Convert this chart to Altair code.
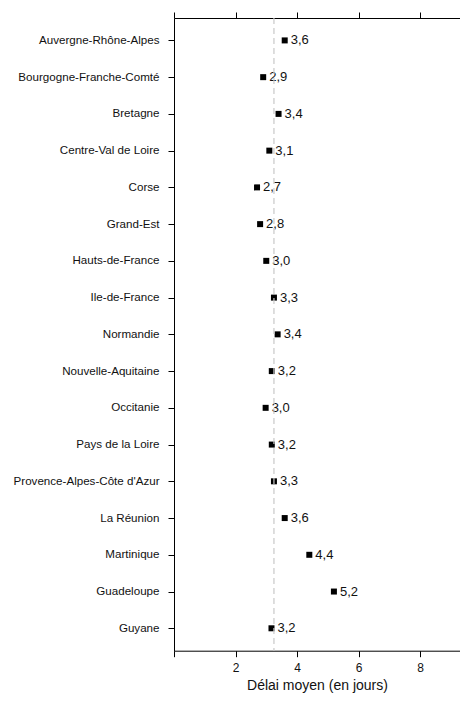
import altair as alt
import pandas as pd

regions = [
    "Auvergne-Rhône-Alpes", "Bourgogne-Franche-Comté", "Bretagne",
    "Centre-Val de Loire", "Corse", "Grand-Est", "Hauts-de-France",
    "Ile-de-France", "Normandie", "Nouvelle-Aquitaine", "Occitanie",
    "Pays de la Loire", "Provence-Alpes-Côte d'Azur", "La Réunion",
    "Martinique", "Guadeloupe", "Guyane",
]
values = [3.6, 2.9, 3.4, 3.1, 2.7, 2.8, 3.0, 3.25, 3.37, 3.18, 2.98,
          3.18, 3.25, 3.6, 4.4, 5.2, 3.17]
labels = ["3,6", "2,9", "3,4", "3,1", "2,7", "2,8", "3,0", "3,3", "3,4",
          "3,2", "3,0", "3,2", "3,3", "3,6", "4,4", "5,2", "3,2"]
reference = [3.25]
x_ticks = [0, 2, 4, 6, 8]

df = pd.DataFrame({"region": regions, "value": values, "label": labels})
ref_df = pd.DataFrame({"ref": reference})

xscale = alt.Scale(domain=[0, 9.3], nice=False, zero=False, round=False)
yscale = alt.Scale(type="point", padding=0.61, round=False)

common_axis = dict(domainColor="black", tickColor="black", labelColor="#111",
                   tickSize=6, grid=False, labelFont="Liberation Sans",
                   titleFont="Liberation Sans")

y_enc = alt.Y("region:N", sort=None, scale=yscale,
              axis=alt.Axis(title=None, labelFontSize=11.6, labelPadding=9,
                            **common_axis))

points = alt.Chart(df).mark_square(size=36, color="black", opacity=1).encode(
    x=alt.X("value:Q", scale=xscale,
            axis=alt.Axis(orient="bottom", values=x_ticks,
                          labelExpr="datum.value == 0 ? '' : datum.label",
                          title="Délai moyen (en jours)", titleFontSize=14,
                          titleFontWeight="normal", titleColor="#111",
                          titlePadding=5, labelFontSize=12, labelPadding=6,
                          **common_axis)),
    y=y_enc,
)

text = alt.Chart(df).mark_text(align="left", baseline="middle", dx=6,
                               fontSize=13, font="Liberation Sans",
                               color="#111").encode(
    x=alt.X("value:Q", scale=xscale, axis=None),
    y=y_enc,
    text="label:N",
)

rule = alt.Chart(ref_df).mark_rule(color="#c8c8c8", strokeDash=[6, 4],
                                   strokeWidth=1.2).encode(
    x=alt.X("ref:Q", scale=xscale,
            axis=alt.Axis(orient="top", values=x_ticks, labels=False,
                          title=None, **common_axis)),
)

chart = alt.layer(points, text, rule).resolve_axis(x="independent").properties(
    width=286, height=632.7,
    autosize=alt.AutoSizeParams(type="none"),
    padding={"left": 166, "top": 10, "right": 0, "bottom": 43.3},
).configure_view(stroke=None)

chart.save("out.html", embed_options={"renderer": "svg", "actions": False})
